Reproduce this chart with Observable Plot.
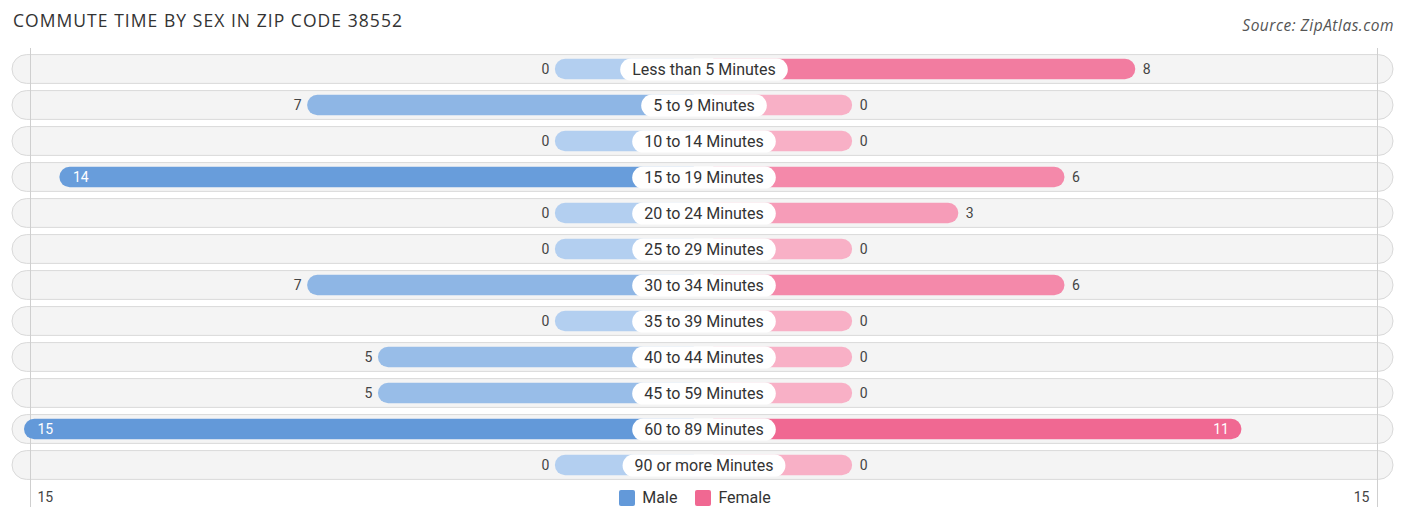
<!DOCTYPE html>
<html>
<head>
<meta charset="utf-8">
<script src="https://cdn.jsdelivr.net/npm/d3@7"></script>
<script src="https://cdn.jsdelivr.net/npm/@observablehq/plot@0.6"></script>
<style>
  body { margin: 0; background: #fff; font-family: Roboto, "Noto Sans", sans-serif; }
  #wrap { position: relative; width: 1406px; height: 523px; overflow: hidden; }
  #title { position: absolute; left: 13px; top: 8px; font-family: "Open Sans", sans-serif; font-size: 17.5px; letter-spacing: 1.05px; color: #333; white-space: nowrap; }
  #source { position: absolute; right: 12px; top: 14px; font-family: "Open Sans", sans-serif; font-size: 15.5px; letter-spacing: 0.5px; font-style: italic; color: #555; white-space: nowrap; }
  #chart { position: absolute; left: 0; top: 40px; }
  #legend { position: absolute; left: -8px; top: 488px; width: 1406px; display: flex; justify-content: center; gap: 18px; font-size: 16px; color: #333; }
  #legend .item { display: flex; align-items: center; gap: 7px; }
  #legend .sw { width: 16px; height: 16px; border-radius: 2px; display: inline-block; }
</style>
</head>
<body>
<div id="wrap">
  <div id="title">COMMUTE TIME BY SEX IN ZIP CODE 38552</div>
  <div id="source">Source: ZipAtlas.com</div>
  <div id="chart"></div>
  <div id="legend"></div>
</div>
<script>
const categories = ["Less than 5 Minutes", "5 to 9 Minutes", "10 to 14 Minutes", "15 to 19 Minutes",
  "20 to 24 Minutes", "25 to 29 Minutes", "30 to 34 Minutes", "35 to 39 Minutes",
  "40 to 44 Minutes", "45 to 59 Minutes", "60 to 89 Minutes", "90 or more Minutes"];
const male =   [0, 7, 0, 14, 0, 0, 7, 0, 5, 5, 15, 0];
const female = [8, 0, 0, 6, 3, 0, 6, 0, 0, 0, 11, 0];
const seriesNames = ["Male", "Female"];
const maleColors = ["#b3cff0", "#6399d9"];
const femaleColors = ["#f8b0c6", "#f06892"];
const axisMax = 15;
const axisTickLabels = ["15", "15"];

const off = 4.2; // room for the centre label, in value units
const maleMax = d3.max(male), femaleMax = d3.max(female);
const maleColor = v => d3.interpolateRgb(maleColors[0], maleColors[1])(v / maleMax);
const femaleColor = v => d3.interpolateRgb(femaleColors[0], femaleColors[1])(v / femaleMax);
const insideMin = 10;

const rows = categories.map((c, i) => ({category: c, male: male[i], female: female[i]}));
const edge = off + axisMax;

const chart = Plot.plot({
  width: 1406,
  height: 483,
  marginTop: 8,
  marginBottom: 16,
  marginLeft: 24,
  marginRight: 23,
  style: {fontFamily: "Roboto, sans-serif", fontSize: "14px", background: "transparent"},
  x: {domain: [-edge, edge], axis: null},
  y: {domain: categories, range: [9.5, 443.5], padding: 0, axis: null},
  color: {type: "identity"},
  marks: [
    Plot.barX(rows, {y: "category", x1: -edge, x2: edge, fill: "#f4f4f4", stroke: "#d9d9d9", strokeWidth: 1,
      rx: 14.5, insetTop: 3.6, insetBottom: 3.6, insetLeft: -12, insetRight: -10}),
    Plot.ruleX([-edge], {stroke: "#cfcfcf", strokeWidth: 1, dx: 6}),
    Plot.ruleX([edge], {stroke: "#cfcfcf", strokeWidth: 1, dx: -6}),
    Plot.barX(rows, {y: "category", x1: 0, x2: d => -(off + d.male), fill: d => maleColor(d.male),
      rx: 10.3, insetTop: 7.8, insetBottom: 7.8}),
    Plot.barX(rows, {y: "category", x1: 0, x2: d => off + d.female, fill: d => femaleColor(d.female),
      rx: 10.3, insetTop: 7.8, insetBottom: 7.8}),
    Plot.text(rows.filter(d => d.male < insideMin), {y: "category", x: d => -(off + d.male), text: d => String(d.male),
      textAnchor: "end", dx: -6, fill: "#444", fontSize: 14}),
    Plot.text(rows.filter(d => d.male >= insideMin), {y: "category", x: d => -(off + d.male), text: d => String(d.male),
      textAnchor: "start", dx: 13, fill: "#fff", fontSize: 14}),
    Plot.text(rows.filter(d => d.female < insideMin), {y: "category", x: d => off + d.female, text: d => String(d.female),
      textAnchor: "start", dx: 7, fill: "#444", fontSize: 14}),
    Plot.text(rows.filter(d => d.female >= insideMin), {y: "category", x: d => off + d.female, text: d => String(d.female),
      textAnchor: "end", dx: -13, fill: "#fff", fontSize: 14}),
    Plot.text(rows, {y: "category", x: 0, text: "category", fill: "#333", fontSize: 16}),
    Plot.text([-edge], {x: d => d, frameAnchor: "bottom", dy: -6, dx: 13, textAnchor: "start", text: () => axisTickLabels[0], fill: "#444", fontSize: 14}),
    Plot.text([edge], {x: d => d, frameAnchor: "bottom", dy: -6, dx: -14, textAnchor: "end", text: () => axisTickLabels[1], fill: "#444", fontSize: 14})
  ]
});
document.getElementById("chart").appendChild(chart);

// white pills behind centre labels
const catSet = new Set(categories);
const svgRect = chart.getBoundingClientRect();
const labelTexts = Array.from(chart.querySelectorAll("text")).filter(t => catSet.has(t.textContent));
if (labelTexts.length) {
  const labelG = labelTexts[0].parentNode;
  const pillG = document.createElementNS("http://www.w3.org/2000/svg", "g");
  labelG.parentNode.insertBefore(pillG, labelG);
  labelTexts.forEach(t => {
    const b = t.getBoundingClientRect();
    const cx = b.left + b.width / 2 - svgRect.left;
    const cy = b.top + b.height / 2 - svgRect.top;
    const w = b.width + 24, h = 22;
    const r = document.createElementNS("http://www.w3.org/2000/svg", "rect");
    r.setAttribute("x", cx - w / 2);
    r.setAttribute("y", cy - h / 2 + 0.5);
    r.setAttribute("width", w);
    r.setAttribute("height", h);
    r.setAttribute("rx", h / 2);
    r.setAttribute("fill", "#fff");
    pillG.appendChild(r);
  });
}

// legend
const legend = document.getElementById("legend");
[[seriesNames[0], maleColors[1]], [seriesNames[1], femaleColors[1]]].forEach(([name, col]) => {
  const item = document.createElement("div");
  item.className = "item";
  const sw = document.createElement("span");
  sw.className = "sw";
  sw.style.background = col;
  const lab = document.createElement("span");
  lab.textContent = name;
  item.appendChild(sw); item.appendChild(lab);
  legend.appendChild(item);
});
</script>
</body>
</html>
